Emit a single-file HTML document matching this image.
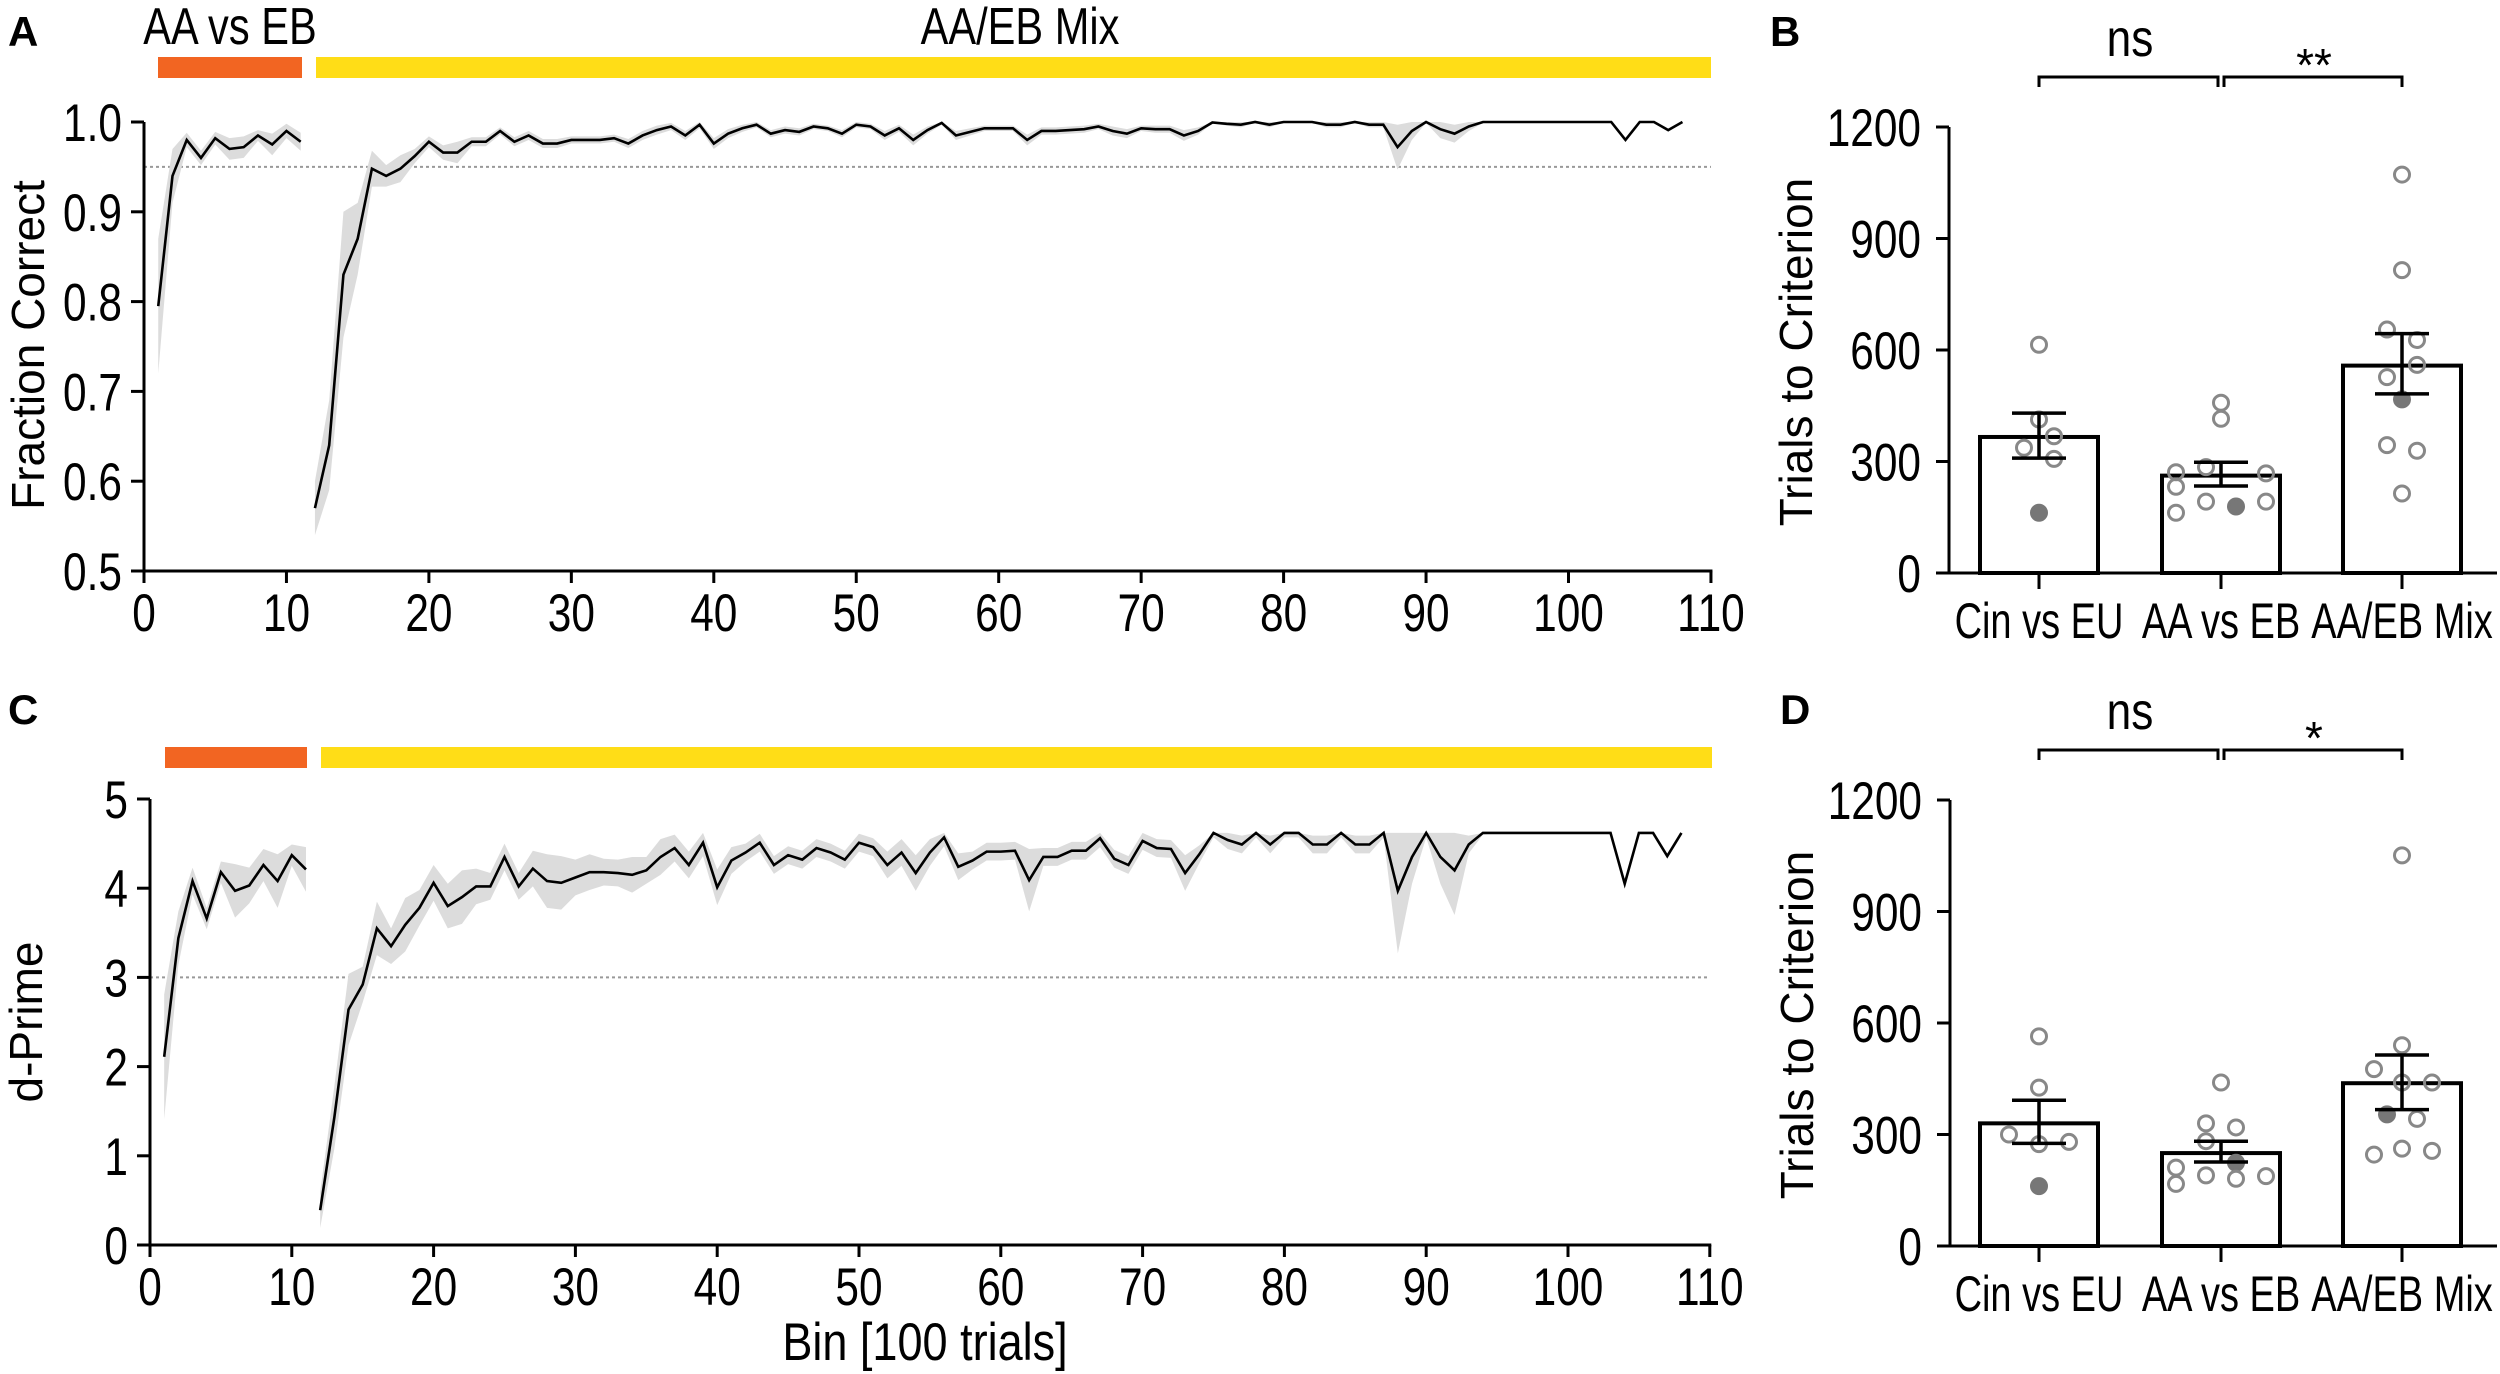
<!DOCTYPE html>
<html><head><meta charset="utf-8"><style>
html,body{margin:0;padding:0;background:#fff}
svg{display:block}
.n{font-family:"Liberation Sans Narrow","Liberation Sans",sans-serif}
.w{font-family:"Liberation Sans",sans-serif}
</style></head><body>
<svg id="fig" width="2500" height="1374" viewBox="0 0 2500 1374" xmlns="http://www.w3.org/2000/svg"></svg>
<script>
// ---- Panel A data: fraction correct ----
const binsA1=[1,2,3,4,5,6,7,8,9,10,11];
const fcA1=[0.795,0.94,0.98,0.96,0.982,0.97,0.972,0.985,0.975,0.99,0.978];
const semA1=[0.075,0.03,0.008,0.008,0.007,0.012,0.012,0.006,0.012,0.008,0.01];
const fcA2=[0.57,0.64,0.83,0.87,0.948,0.94,0.948,0.962,0.978,0.966,0.966,0.978,0.978,0.99,0.978,0.985,0.976,0.976,0.98,0.98,0.98,0.982,0.976,0.985,0.991,0.995,0.985,0.997,0.976,0.987,0.993,0.997,0.987,0.991,0.989,0.995,0.993,0.987,0.997,0.995,0.985,0.993,0.98,0.991,0.999,0.985,0.989,0.993,0.993,0.993,0.98,0.99,0.99,0.991,0.992,0.995,0.99,0.987,0.993,0.992,0.992,0.985,0.99,0.9995,0.998,0.997,1.0,0.997,1.0,1.0,1.0,0.997,0.997,1.0,0.997,0.997,0.972,0.99,1.0,0.992,0.987,0.995,1.0,1,1,1,1,1,1,1,1,1,0.98,1.0,1.0,0.991,1.0];
const semA2=[0.03,0.05,0.07,0.04,0.02,0.012,0.015,0.008,0.006,0.008,0.012,0.005,0.005,0.004,0.005,0.005,0.005,0.005,0.004,0.004,0.004,0.004,0.005,0.005,0.005,0.004,0.005,0.004,0.006,0.005,0.004,0.003,0.004,0.004,0.004,0.003,0.003,0.004,0.003,0.003,0.005,0.004,0.006,0.004,0.002,0.005,0.004,0.003,0.003,0.003,0.006,0.004,0.004,0.004,0.004,0.003,0.005,0.005,0.003,0.004,0.004,0.006,0.004,0.001,0.002,0.003,0.001,0.003,0.001,0.001,0.001,0.003,0.003,0.001,0.003,0.003,0.025,0.01,0.001,0.01,0.01,0.005,0.001,0,0,0,0,0,0,0,0,0,0,0,0,0,0];
// ---- Panel C data: d-prime ----
const dpC1=[2.11,3.44,4.08,3.66,4.18,3.97,4.03,4.26,4.08,4.37,4.21];
const semC1=[0.7,0.3,0.15,0.12,0.12,0.3,0.2,0.18,0.3,0.12,0.25];
const dpC2=[0.39,1.43,2.64,2.92,3.55,3.35,3.59,3.78,4.06,3.8,3.9,4.02,4.02,4.35,4.02,4.22,4.08,4.06,4.12,4.18,4.18,4.17,4.15,4.2,4.35,4.45,4.26,4.51,4.01,4.31,4.4,4.51,4.26,4.37,4.32,4.45,4.4,4.32,4.51,4.46,4.26,4.4,4.17,4.4,4.57,4.24,4.31,4.41,4.41,4.42,4.09,4.35,4.35,4.42,4.42,4.56,4.33,4.26,4.53,4.45,4.44,4.17,4.38,4.62,4.54,4.49,4.62,4.49,4.62,4.62,4.49,4.49,4.62,4.49,4.49,4.62,3.97,4.35,4.62,4.35,4.2,4.49,4.62,4.62,4.62,4.62,4.62,4.62,4.62,4.62,4.62,4.62,4.05,4.62,4.62,4.36,4.62];
const semC2=[0.2,0.35,0.4,0.2,0.3,0.2,0.3,0.2,0.2,0.25,0.3,0.2,0.15,0.15,0.15,0.2,0.3,0.3,0.2,0.2,0.15,0.15,0.2,0.15,0.2,0.15,0.15,0.15,0.2,0.15,0.1,0.1,0.1,0.1,0.1,0.1,0.1,0.1,0.1,0.1,0.15,0.15,0.2,0.15,0.1,0.15,0.1,0.1,0.1,0.1,0.35,0.1,0.1,0.1,0.1,0.1,0.1,0.1,0.1,0.1,0.1,0.2,0.1,0.05,0.1,0.1,0.05,0.1,0.05,0.05,0.1,0.1,0.05,0.1,0.1,0.05,0.7,0.3,0.05,0.3,0.5,0.1,0.02,0,0,0,0,0,0,0,0,0,0,0,0,0,0];
const capA=1.0, capC=4.62;
const xTicks=[0,10,20,30,40,50,60,70,80,90,100,110];
const yTicksA=[0.5,0.6,0.7,0.8,0.9,1.0];
const yTicksC=[0,1,2,3,4,5];
// ---- Bar panels ----
const cats=["Cin vs EU","AA vs EB","AA/EB Mix"];
const yTicksB=[0,300,600,900,1200];
const meanB=[366,262,558]; const errLoB=[309,234,482]; const errHiB=[430,298,644];
const ptsB=[[614,413,368,337,307,162],[458,415,285,271,268,232,192,179,192,162],[1072,815,655,627,560,527,467,344,329,214]];
const offB=[[0,0,15,-15,15,0],[0,0,-15,-45,45,-45,-15,15,45,-45],[0,0,-15,15,15,-15,0,-15,15,0]];
const fillB=[5,7,6];
const meanD=[330,250,438]; const errLoD=[276,226,367]; const errHiD=[392,282,514];
const ptsD=[[564,426,300,274,280,161],[440,330,319,282,224,211,190,181,188,167],[1051,540,476,440,440,354,342,262,256,246]];
const offD=[[0,0,-30,0,30,0],[0,-15,15,-15,15,-45,-15,15,45,-45],[0,0,-28,0,30,-15,15,0,30,-28]];
const fillD=[5,4,5];

const S="http://www.w3.org/2000/svg", svg=document.getElementById('fig');
function el(t,a,p){const e=document.createElementNS(S,t);for(const k in a)e.setAttribute(k,a[k]);(p||svg).appendChild(e);return e;}
function txt(s,a,p){const e=el('text',a,p);e.textContent=s;return e;}
function ntxt(s,x,y,anchor,size,p,sx){const e=el('text',{x:0,y:0,transform:`translate(${x},${y}) scale(${sx||0.8},1)`,'text-anchor':anchor,'font-size':size,class:'w'},p);e.textContent=s;return e;}

function linePanel(o){
  const g=el('g',{});
  
  
  const X=v=>o.x0+v*o.xs, Y=v=>o.yb-(v-o.ymin)*o.ys;
  let r=el('rect',{x:o.ob[0],y:o.by,width:o.ob[1]-o.ob[0],height:21,fill:'#f26522'},g);
  
  r=el('rect',{x:o.yb2[0],y:o.by,width:o.yb2[1]-o.yb2[0],height:21,fill:'#ffdd17'},g);
  
  let d=el('line',{x1:X(0),x2:X(110),y1:Y(o.thr),y2:Y(o.thr),stroke:'#999','stroke-width':2,'stroke-dasharray':'3,3'},g);
  
  o.series.forEach((s,si)=>{
    const up=[],lo=[],ln=[];
    s.v.forEach((v,i)=>{const b=s.start+i;up.push(X(b)+','+Y(Math.min(o.cap,v+s.e[i])));lo.unshift(X(b)+','+Y(v-s.e[i]));ln.push(X(b)+','+Y(v));});
    const band=el('polygon',{points:up.concat(lo).join(' '),fill:'#dcdcdc'},g);
    
    const pl=el('polyline',{points:ln.join(' '),fill:'none',stroke:'#000','stroke-width':2.6,'stroke-linejoin':'miter'},g);
    
  });
  el('line',{x1:X(0),x2:X(0),y1:Y(o.ymax),y2:o.yb+1.5,stroke:'#000','stroke-width':3},g);
  el('line',{x1:X(0)-1.5,x2:X(110)+1.5,y1:o.yb,y2:o.yb,stroke:'#000','stroke-width':3},g);
  o.yt.forEach(v=>{
    el('line',{x1:X(0)-13,x2:X(0),y1:Y(v),y2:Y(v),stroke:'#000','stroke-width':3},g);
    const t=ntxt(o.fmt(v),X(0)-22,Y(v)+19,'end',53,g);
    
  });
  xTicks.forEach(v=>{
    el('line',{x1:X(v),x2:X(v),y1:o.yb,y2:o.yb+12,stroke:'#000','stroke-width':3},g);
    const t=ntxt(String(v),X(v),o.yb+60,'middle',53,g);
    
  });
  const yt=txt(o.ytitle,{x:0,y:0,transform:`translate(${o.ytx},${o.yty}) rotate(-90)`,'text-anchor':'middle','font-size':46,class:'w'},g);
  
}

linePanel({name:'panel-a-fraction-correct',x0:144,xs:14.245,yb:571,ymin:0.5,ymax:1.0,ys:898,thr:0.95,cap:capA,
  by:57,ob:[158,302],yb2:[316,1711],yt:yTicksA,fmt:v=>v.toFixed(1),ytitle:'Fraction Correct',ytx:44,yty:345,
  series:[{start:1,v:fcA1,e:semA1},{start:12,v:fcA2,e:semA2}]});
linePanel({name:'panel-c-d-prime',x0:150,xs:14.18,yb:1245,ymin:0,ymax:5,ys:89.2,thr:3,cap:capC,
  by:747,ob:[165,307],yb2:[321,1712],yt:yTicksC,fmt:v=>String(v),ytitle:'d-Prime',ytx:42,yty:1022,
  series:[{start:1,v:dpC1,e:semC1},{start:12,v:dpC2,e:semC2}]});

function barPanel(o){
  const g=el('g',{});
  
  
  const cx=[2039,2221,2402], Y=v=>o.yb-v*(446/1200);
  el('line',{x1:o.ax,x2:o.ax,y1:Y(1200),y2:o.yb+1.5,stroke:'#000','stroke-width':3},g);
  el('line',{x1:o.ax-1.5,x2:2497,y1:o.yb,y2:o.yb,stroke:'#000','stroke-width':3},g);
  yTicksB.forEach(v=>{
    el('line',{x1:o.ax-13,x2:o.ax,y1:Y(v),y2:Y(v),stroke:'#000','stroke-width':3},g);
    const t=ntxt(String(v),o.ax-28,Y(v)+19,'end',53,g);
    
  });
  cats.forEach((c,i)=>{
    el('line',{x1:cx[i],x2:cx[i],y1:o.yb,y2:o.yb+16,stroke:'#000','stroke-width':3},g);
    const t=ntxt(c,cx[i],o.yb+65,'middle',50,g,0.76);
    
    const b=el('rect',{x:cx[i]-59,y:Y(o.mean[i]),width:118,height:o.yb-Y(o.mean[i]),fill:'#fff',stroke:'#000','stroke-width':4},g);
    
    o.pts[i].forEach((p,j)=>{
      const f=j===o.fill[i];
      const cc=el('circle',{cx:cx[i]+o.off[i][j],cy:Y(p),r:7.5,fill:f?'#777':'none',stroke:f?'#777':'#888','stroke-width':3},g);
      
    });
    const eb=el('path',{d:`M${cx[i]} ${Y(o.hi[i])}V${Y(o.lo[i])}M${cx[i]-27} ${Y(o.hi[i])}H${cx[i]+27}M${cx[i]-27} ${Y(o.lo[i])}H${cx[i]+27}`,stroke:'#000','stroke-width':3.5,fill:'none'},g);
    
  });
  const br=el('path',{d:`M${cx[0]} ${o.by+10}V${o.by}H${cx[1]-3}V${o.by+10}M${cx[1]+3} ${o.by+10}V${o.by}H${cx[2]}V${o.by+10}`,stroke:'#000','stroke-width':3,fill:'none'},g);
  
  let t=ntxt('ns',2130,o.by-21,'middle',52,g,0.85);
  
  t=txt(o.star,{x:2314,y:o.by+4,'text-anchor':'middle','font-size':46,class:'w'},g);
  
  t=txt('Trials to Criterion',{x:0,y:0,transform:`translate(${o.ax-137},${o.yty}) rotate(-90)`,'text-anchor':'middle','font-size':46,class:'w'},g);
  
}
barPanel({name:'panel-b-trials-fraction',ax:1949,yb:573,by:77,star:'**',yty:352,mean:meanB,lo:errLoB,hi:errHiB,pts:ptsB,off:offB,fill:fillB});
barPanel({name:'panel-d-trials-dprime',ax:1950,yb:1246,by:750,star:'*',yty:1025,mean:meanD,lo:errLoD,hi:errHiD,pts:ptsD,off:offD,fill:fillD});

[['A',8,46],['B',1770,46],['C',8,724],['D',1780,724]].forEach(a=>{
  const t=txt(a[0],{x:a[1],y:a[2],'font-size':42,'font-weight':'bold',class:'w'});
  
});
let t=ntxt('AA vs EB',230,44,'middle',52);

t=ntxt('AA/EB Mix',1020,44,'middle',52);

t=ntxt('Bin [100 trials]',925,1360,'middle',53,null,0.85);

</script>
</body></html>
